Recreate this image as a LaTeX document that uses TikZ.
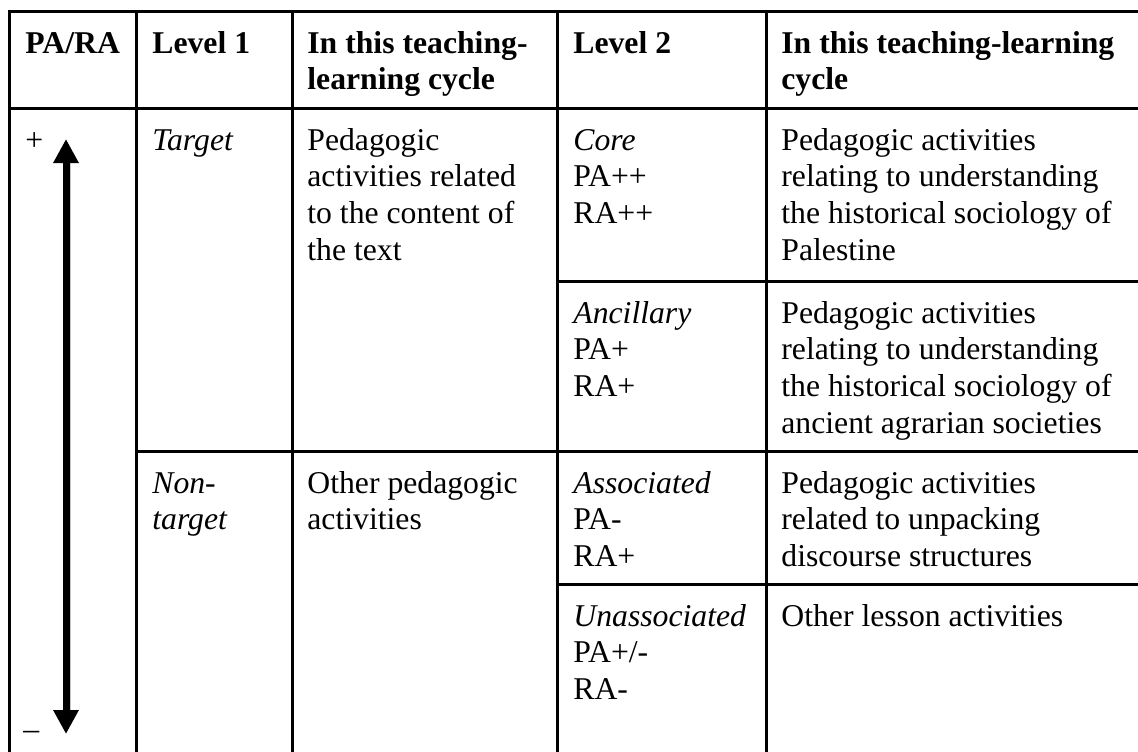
\documentclass[tikz,border=0pt]{standalone}
\usepackage{fontspec}
\setmainfont{Liberation Serif}
\usetikzlibrary{arrows.meta}

% multi-line cell text, baseline on the first line
\newcommand{\celltext}[1]{\begin{tabular}[t]{@{}l@{}}#1\end{tabular}}

\tikzset{
  rule/.style={line width=1.5pt, line cap=rect},
  txt/.style={anchor=base west, inner sep=0pt, font=\fontsize{15.85}{18.35}\selectfont},
  head/.style={txt, font=\fontsize{15.85}{18.35}\selectfont\bfseries},
  scale arrow/.style={line width=3.5pt, {Triangle[width=12pt,length=12pt]}-{Triangle[width=12pt,length=12pt]}}
}

\begin{document}
\begin{tikzpicture}[x=0.5pt,y=-0.5pt]
\useasboundingbox (0,0) rectangle (1138,751);

% grid of the table
\draw[rule] (9,11) -- (1140,11);
\draw[rule] (9,108) -- (1140,108);
\draw[rule] (557,281) -- (1140,281);
\draw[rule] (136,451) -- (1140,451);
\draw[rule] (557,584) -- (1140,584);
\foreach \x in {9,136,292,557,766}
  \draw[rule] (\x,11) -- (\x,753);

% header row
\node[head] (hpr) at (25,53) {PA/RA};
\node[head] (hl1) at (152,53) {Level 1};
\node[head] (hc1) at (307,53) {\celltext{In this teaching-\\learning cycle}};
\node[head] (hl2) at (573,53) {Level 2};
\node[head] (hc2) at (781,53) {\celltext{In this teaching-learning\\cycle}};

% PA/RA scale
\node[txt] (plus) at (25,150) {+};
\node[txt] (minus) at (23,739) {–};
\coordinate (atop) at (66,139);
\coordinate (abot) at (66,734);
\draw[gray!45, line width=0.6pt] (70.6,160) -- (70.6,712);
\draw[scale arrow] (atop) -- (abot);

% target
\node[txt] (target) at (152,150) {\itshape Target};
\node[txt] (tdesc) at (307,150) {\celltext{Pedagogic\\activities related\\to the content of\\the text}};
\node[txt] (core) at (573,150) {\celltext{\itshape Core\\PA++\\RA++}};
\node[txt] (cdesc) at (781,150) {\celltext{Pedagogic activities\\relating to understanding\\the historical sociology of\\Palestine}};
\node[txt] (anc) at (573,323) {\celltext{\itshape Ancillary\\PA+\\RA+}};
\node[txt] (adesc) at (781,323) {\celltext{Pedagogic activities\\relating to understanding\\the historical sociology of\\ancient agrarian societies}};

% non-target
\node[txt] (ntarget) at (152,493) {\celltext{\itshape Non-\\\itshape target}};
\node[txt] (ndesc) at (307,493) {\celltext{Other pedagogic\\activities}};
\node[txt] (assoc) at (573,493) {\celltext{\itshape Associated\\PA-\\RA+}};
\node[txt] (asdesc) at (781,493) {\celltext{Pedagogic activities\\related to unpacking\\discourse structures}};
\node[txt] (unassoc) at (573,626) {\celltext{\itshape Unassociated\\PA+/-\\RA-}};
\node[txt] (undesc) at (781,626) {Other lesson activities};
\end{tikzpicture}
\end{document}
